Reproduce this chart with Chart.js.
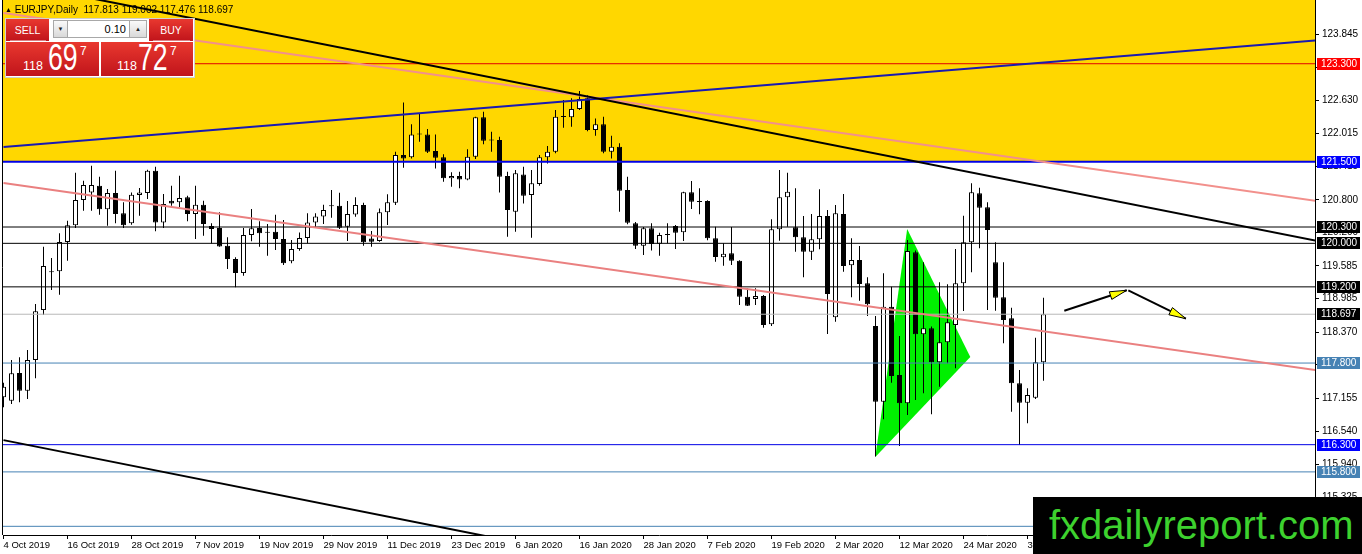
<!DOCTYPE html>
<html><head><meta charset="utf-8">
<script src="https://cdn.jsdelivr.net/npm/chart.js@4.4.1/dist/chart.umd.min.js"></script>
<style>
html,body{margin:0;padding:0;background:#fff;overflow:hidden}
#wrap{position:relative;width:1362px;height:554px;overflow:hidden;font-family:"Liberation Sans",Arial,sans-serif}
#c{position:absolute;left:0;top:0}
#title{position:absolute;left:5px;top:4px;font-size:10px;line-height:12px;color:#000;white-space:pre}
#title .tri{font-size:7px;vertical-align:1px}
#panel{position:absolute;left:5px;top:18px;width:190px;height:60px;background:#fff;border:1px solid #d0d0d0;box-sizing:border-box}
.red{position:absolute;background:linear-gradient(#e9382f,#c0141b);color:#fff}
.btn{top:19px;height:22px;font-size:10.5px;line-height:22px;text-align:center}
.btn:after{content:"";position:absolute;left:4px;right:3px;bottom:0;height:1px;background:rgba(255,255,255,0.45)}
.sell{left:6px;width:43px}
.buy{left:149px;width:44px}
.spin{position:absolute;top:20px;height:18px;background:linear-gradient(#fafafa,#d9d9d9);border:1px solid #a8a8a8;box-sizing:border-box;font-size:6px;line-height:16px;text-align:center;color:#222}
.dn{left:53px;width:15px}
.up{left:129px;width:18px}
.lot{position:absolute;left:68px;top:20px;width:61px;height:18px;border:1px solid #a8a8a8;border-left:none;border-right:none;box-sizing:border-box;background:#fff;font-size:11px;line-height:16px;text-align:right;padding-right:3px;color:#000}
.px{top:42px;height:34px}
.pxs{left:6px;width:93px}
.pxb{left:101px;width:92px}
.px span{position:absolute;line-height:1;white-space:nowrap}
.px .s{font-size:12.5px;top:18px}
.px .b{font-size:36px;top:-2px;transform:scaleX(0.74);transform-origin:0 0}
.px .p{font-size:12px;top:3px}
#wm{position:absolute;left:1033px;top:497px;width:329px;height:57px;background:#000;color:#3dd12e;font-size:40px;line-height:57px;padding-left:16px;box-sizing:border-box;white-space:nowrap}
</style></head>
<body>
<div id="wrap">
<canvas id="c" width="1362" height="554"></canvas>
<div id="title"></div>
<div id="panel"></div>
<div class="red btn sell">SELL</div>
<div class="spin dn">&#9660;</div>
<div class="lot">0.10</div>
<div class="spin up">&#9650;</div>
<div class="red btn buy">BUY</div>
<div class="red px pxs"><span class="s" style="left:17px">118</span><span class="b" style="left:42px">69</span><span class="p" style="left:74px">7</span></div>
<div class="red px pxb"><span class="s" style="left:16px">118</span><span class="b" style="left:37px">72</span><span class="p" style="left:69px">7</span></div>
<div id="wm">fxdailyreport.com</div>
</div>
<script>
// ---------- data ----------
const symbolName = 'EURJPY,Daily';
const tickDates = ['4 Oct 2019','16 Oct 2019','28 Oct 2019','7 Nov 2019','19 Nov 2019','29 Nov 2019','11 Dec 2019','23 Dec 2019','6 Jan 2020','16 Jan 2020','28 Jan 2020','7 Feb 2020','19 Feb 2020','2 Mar 2020','12 Mar 2020','24 Mar 2020','3 Apr 2020'];
const barsPerDateTick = 8;
const priceTicks = [123.845,123.230,122.630,122.015,121.415,120.800,120.200,119.585,118.985,118.370,117.770,117.155,116.540,115.940,115.325];

const opens = [117.17,117.108,117.617,117.292,117.855,118.774,119.485,119.485,120.024,120.33,
120.796,120.936,121.059,120.624,120.924,120.551,120.367,120.888,120.924,121.335,
120.385,120.783,120.753,120.845,120.538,120.71,120.318,120.28,119.956,119.711,
119.454,120.152,120.28,120.214,120.214,120.079,119.669,119.895,120.097,120.385,
120.495,120.70,120.691,120.306,120.532,120.704,120.091,120.042,120.569,120.747,
121.623,121.58,122.01,122.002,121.696,121.58,121.194,121.237,121.175,121.592,
122.315,121.91,121.898,121.237,120.581,121.267,120.887,121.09,121.58,121.684,
122.34,122.315,122.468,122.664,122.082,122.186,121.684,121.776,120.98,120.367,
119.957,120.276,119.994,120.165,120.318,120.202,120.937,120.77,120.778,120.092,
119.743,119.816,119.682,119.02,118.977,119.03,118.511,120.257,120.845,120.294,
120.11,119.847,120.073,120.502,118.64,120.539,119.595,119.694,119.265,118.481,
117.091,118.836,117.58,117.06,119.835,118.328,118.438,117.813,118.181,118.499,
119.265,120.018,120.919,120.661,119.651,119.008,118.622,117.427,117.072,117.164,
117.813];
const highs = [117.44,117.855,117.905,118.039,118.885,119.938,119.73,120.183,120.416,121.298,
121.15,121.427,121.224,120.998,121.335,120.753,120.936,121.016,121.353,121.408,
120.906,121.059,121.243,120.875,121.059,120.783,120.367,120.569,120.11,119.742,
120.28,120.63,120.404,120.355,120.526,120.428,120.061,120.201,120.551,120.551,
120.71,120.979,120.93,120.777,120.845,120.747,120.226,120.642,120.9,121.684,
122.59,122.186,122.388,122.1,122.002,121.635,121.304,121.316,121.727,122.327,
122.419,122.051,121.959,121.316,121.347,121.408,121.347,121.623,121.788,122.449,
122.633,122.664,122.799,122.725,122.296,122.327,121.978,121.837,121.225,120.39,
120.30,120.367,120.196,120.367,120.336,120.95,121.145,121.011,120.79,120.306,
120.0,120.30,119.69,119.173,119.173,119.05,120.441,121.347,121.298,121.011,
120.502,120.539,120.992,120.612,120.704,120.906,120.092,119.951,119.375,118.665,
119.449,119.204,118.297,120.061,119.87,119.651,118.47,119.283,119.246,119.896,
120.508,121.102,121.023,120.753,120.018,119.651,118.818,117.672,117.335,118.266,
119.002];
const lows = [116.99,117.047,117.078,117.139,117.519,118.682,119.142,119.056,119.68,120.28,
120.6,120.6,120.526,120.324,120.367,120.28,120.342,120.508,120.814,120.22,
120.28,120.691,120.661,120.404,120.079,120.14,119.999,119.938,119.528,119.191,
119.405,120.036,119.938,119.773,119.877,119.601,119.632,119.865,120.0,120.28,
120.355,120.471,120.263,120.042,120.49,119.956,119.938,120.03,120.336,120.704,
121.39,121.561,121.868,121.66,121.377,121.132,121.041,121.01,121.16,121.549,
121.819,121.684,120.936,120.122,120.214,120.734,120.103,121.059,121.469,121.653,
122.125,122.143,122.449,122.06,121.978,121.653,121.561,120.582,120.35,119.896,
119.786,119.866,119.773,120.0,119.896,120.043,120.631,120.533,120.055,119.663,
119.59,119.6,118.867,118.848,118.867,118.451,118.48,120.049,120.306,119.847,
119.375,119.694,119.89,118.334,118.56,119.479,119.008,118.946,118.665,116.081,
116.766,117.44,116.276,116.845,117.121,117.244,116.858,117.366,117.795,117.703,
118.757,119.467,119.908,118.775,118.763,118.162,116.907,116.294,116.692,117.14,
117.476];
const closes = [117.365,117.611,117.292,117.855,118.75,119.583,119.47,120.024,120.33,120.796,
121.071,121.071,120.624,120.924,120.538,120.33,120.894,120.936,121.335,120.385,
120.722,120.734,120.832,120.538,120.71,120.355,120.263,119.944,119.711,119.454,
120.152,120.275,120.183,120.195,120.079,119.632,119.895,120.097,120.385,120.495,
120.612,120.68,120.287,120.538,120.704,120.018,120.03,120.569,120.753,121.623,
121.561,122.002,122.0,121.684,121.574,121.194,121.237,121.175,121.592,122.315,
121.886,121.89,121.224,120.612,121.286,120.875,121.102,121.58,121.684,122.327,
122.32,122.468,122.652,122.082,122.186,121.684,121.776,120.967,120.379,119.957,
120.276,119.988,120.153,120.155,120.196,120.937,120.766,120.76,120.092,119.749,
119.81,119.682,119.02,118.854,119.03,118.499,120.257,120.845,120.949,120.11,
119.847,120.073,120.502,119.069,120.551,119.583,119.694,119.253,118.88,117.091,
118.836,117.562,117.06,119.859,118.328,118.438,117.813,118.181,118.548,119.265,
120.018,120.937,120.655,120.245,119.002,118.591,117.427,117.072,117.213,117.813,
118.697];

// horizontal levels (price)
const levelPrices = [123.300,121.500,120.300,120.000,119.200,118.697,117.800,116.300,115.800,114.800];
// yellow zone: from this price up to the top
const zoneFloor = 121.500;
// trend lines: [barIndex, price] start and end
const trendBlackTop   = [[0,124.822],[164,120.050]];
const trendBlue       = [[0,121.770],[164,123.727]];
const trendPinkTop    = [[0,124.234],[164,120.783]];
const trendPinkLow    = [[0,121.107],[164,117.672]];
const trendBlackLow   = [[0,116.384],[65,114.482]];
const triangle        = [[108.98,116.074],[112.96,120.263],[120.85,117.911]];
const arrowUp         = [[132.6,118.762],[140.4,119.137]];
const arrowDown       = [[140.6,119.137],[147.8,118.615]];

// ---------- styles ----------
const levelColors = ['#e00000','#0000e6','#000000','#000000','#000000','#b8b8b8','#4682b4','#0000e6','#4682b4','#4682b4'];
const levelWidths = [1,2,1,1,1,1,1,1,1,1];
const tagColors   = ['#ff0000','#0000ff','#000000','#000000','#000000','#000000','#4682b4','#0000ff','#4682b4','#4682b4'];

// title text from last bar
const last = opens.length - 1;
document.getElementById('title').innerHTML = '<span class="tri">&#9650;</span> ' + symbolName + '  ' +
  [opens[last],highs[last],lows[last],closes[last]].map(v=>v.toFixed(3)).join(' ');

const FAM = "'Liberation Sans',Arial,sans-serif";
const X_FONT = {family:FAM, size:9.5};
const Y_FONT = {family:FAM, size:10};
const xMin = -0.0625, xMax = xMin + 1312/8;
const yMin = 114.6404, yMax = 124.4713;

const pts = a => a.map(p => ({x:p[0], y:p[1]}));
const lineDs = (data, color, width, order, extra) => Object.assign({
  type:'line', data:pts(data), borderColor:color, borderWidth:width, pointRadius:0,
  fill:false, tension:0, order:order
}, extra||{});

const idx = opens.map((_,i)=>i);
const bodyColor = idx.map(i => (closes[i]-opens[i] > 0.03) ? '#ffffff' : '#000000');

const datasets = [];
datasets.push(lineDs([[xMin,zoneFloor],[xMax,zoneFloor]], 'rgba(0,0,0,0)', 0, 100, {fill:'end', backgroundColor:'#ffd700'}));
datasets.push(lineDs(triangle.concat([triangle[0]]), 'rgba(0,0,0,0)', 0, 90, {fill:'shape', backgroundColor:'#00f000'}));
datasets.push({type:'bar', data: idx.map(i=>({x:i, y:[lows[i],highs[i]]})), backgroundColor:'#000', borderWidth:0,
  grouped:false, barPercentage:1, categoryPercentage:1, maxBarThickness:1, inflateAmount:0, order:30});
datasets.push({type:'bar', data: idx.map(i=>({x:i, y:[Math.min(opens[i],closes[i]),Math.max(opens[i],closes[i])]})),
  backgroundColor: bodyColor, borderColor:'#000', borderWidth:1, borderSkipped:false,
  grouped:false, barPercentage:1, categoryPercentage:1, maxBarThickness:5, minBarLength:1, inflateAmount:0, order:20});
levelPrices.forEach((v,k)=>datasets.push(lineDs([[xMin,v],[xMax,v]], levelColors[k], levelWidths[k], 10)));
datasets.push(lineDs(trendPinkTop, '#f2908c', 2, 6));
datasets.push(lineDs(trendPinkLow, '#ea8080', 2, 6));
datasets.push(lineDs(trendBlue, '#1a1ab0', 2, 5));
datasets.push(lineDs(trendBlackTop, '#000', 2, 4));
datasets.push(lineDs(trendBlackLow, '#000', 2, 4));
datasets.push(lineDs(arrowUp, '#000', 2, 1, {arrow:true}));
datasets.push(lineDs(arrowDown, '#000', 2, 1, {arrow:true}));

const extras = {
  id:'extras',
  afterDatasetsDraw(chart){
    const ctx = chart.ctx;
    chart.data.datasets.forEach((ds,i)=>{
      if(!ds.arrow) return;
      const m = chart.getDatasetMeta(i).data;
      const a = m[0], b = m[m.length-1];
      const dx = b.x-a.x, dy = b.y-a.y, L = Math.hypot(dx,dy), ux = dx/L, uy = dy/L;
      const len = 17, hw = 4;
      const bx = b.x-ux*len, by = b.y-uy*len;
      ctx.save();
      ctx.beginPath();
      ctx.moveTo(b.x,b.y);
      ctx.lineTo(bx-uy*hw, by+ux*hw);
      ctx.lineTo(bx+uy*hw, by-ux*hw);
      ctx.closePath();
      ctx.fillStyle='#ffff00'; ctx.fill();
      ctx.strokeStyle='#000'; ctx.lineWidth=1; ctx.stroke();
      ctx.restore();
    });
  },
  afterDraw(chart){
    const ctx = chart.ctx, ys = chart.scales.y, area = chart.chartArea;
    ctx.save();
    ctx.strokeStyle='#000'; ctx.lineWidth=1;
    ctx.beginPath(); ctx.moveTo(area.left-0.5,0); ctx.lineTo(area.left-0.5,area.bottom); ctx.stroke();
    ctx.font = "10px " + FAM;
    ctx.textBaseline='middle'; ctx.textAlign='left';
    levelPrices.forEach((v,k)=>{
      const y = Math.round(ys.getPixelForValue(v));
      ctx.fillStyle = tagColors[k];
      ctx.fillRect(area.right+2, y-6, 43, 12);
      ctx.fillStyle = '#fff';
      ctx.fillText(v.toFixed(3), area.right+6, y+0.5);
    });
    ctx.restore();
  }
};

Chart.defaults.font.family = FAM;
new Chart(document.getElementById('c'), {
  type:'bar',
  data:{datasets},
  options:{
    responsive:false, animation:false, devicePixelRatio:1,
    layout:{padding:{left:3,right:0,top:0,bottom:0}},
    plugins:{legend:{display:false}, tooltip:{enabled:false}, title:{display:false}},
    events:[],
    scales:{
      x:{type:'linear', position:'bottom', min:xMin, max:xMax, offset:false,
        grid:{display:true, drawOnChartArea:false, drawTicks:true, tickLength:4, color:'#000', offset:false},
        border:{display:true, color:'#000', width:1},
        ticks:{autoSkip:false, maxRotation:0, minRotation:0, align:'start', padding:1, color:'#000', font:X_FONT,
          callback:(v,i)=>tickDates[i]},
        afterBuildTicks:s=>{ s.ticks = tickDates.map((_,k)=>({value:k*barsPerDateTick})); },
        afterFit:s=>{ s.height = 19; s.paddingLeft = 0; s.paddingRight = 0; }
      },
      y:{type:'linear', position:'right', min:yMin, max:yMax,
        grid:{display:true, drawOnChartArea:false, drawTicks:true, tickLength:4, color:'#000'},
        border:{display:true, color:'#000', width:1},
        ticks:{padding:3, color:'#000', font:Y_FONT, callback:v=>v.toFixed(3)},
        afterBuildTicks:s=>{ s.ticks = priceTicks.map(v=>({value:v})); },
        afterFit:s=>{ s.width = 47; s.paddingTop = 0; s.paddingBottom = 0; }
      }
    }
  },
  plugins:[extras]
});
</script>
</body></html>
